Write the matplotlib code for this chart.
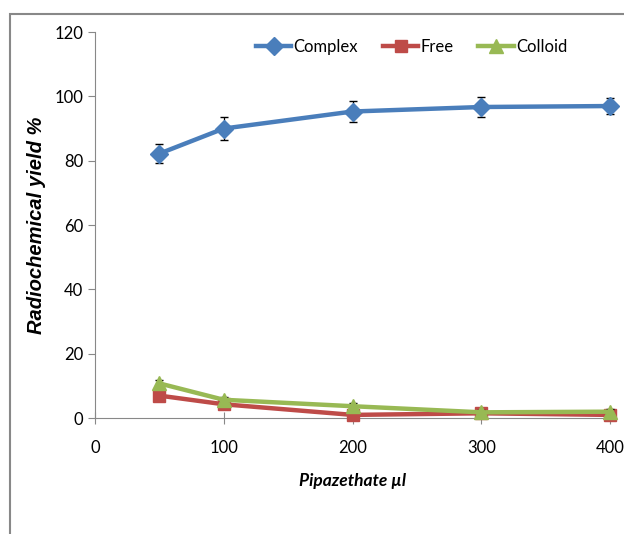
import matplotlib
matplotlib.use('Agg')
import matplotlib.pyplot as plt
from matplotlib.patches import Rectangle

plt.rcParams['font.family'] = ['Lato', 'DejaVu Sans']

volume = [50, 100, 200, 300, 400]
complex_yield = [82.2, 90.0, 95.3, 96.7, 97.0]
complex_err = [3.0, 3.5, 3.2, 3.0, 2.4]
free_yield = [7.0, 4.3, 1.0, 1.5, 1.0]
colloid_yield = [10.8, 5.7, 3.7, 1.8, 2.0]
colloid_err = [1.0, 0.8, 1.0, 0.8, 0.8]

x_ticks = [0, 100, 200, 300, 400]
y_ticks = [0, 20, 40, 60, 80, 100, 120]

blue = '#4A7EBB'
red = '#BE4B48'
green = '#98B954'

fig = plt.figure(figsize=(6.24, 5.34), dpi=100)
fig.patches.append(Rectangle((10 / 624, -0.1), 1.2, 1.1 - 14 / 534,
                             transform=fig.transFigure, fill=False,
                             edgecolor='#888888', linewidth=1.5))
ax = fig.add_axes([0.152, 0.217, 0.826, 0.723])

eb1 = ax.errorbar(volume, complex_yield, yerr=complex_err, color=blue, lw=3.2,
                  marker='D', ms=9, ecolor='black', elinewidth=0.9, capsize=3,
                  zorder=3)
l2, = ax.plot(volume, free_yield, color=red, lw=3.2, marker='s', ms=9, zorder=3)
eb3 = ax.errorbar(volume, colloid_yield, yerr=colloid_err, color=green, lw=3.2,
                  marker='^', ms=10, ecolor='black', elinewidth=0.9, capsize=3,
                  zorder=4)

ax.set_xlim(0, 400)
ax.set_ylim(0, 120)
ax.set_xticks(x_ticks)
ax.set_yticks(y_ticks)
ax.tick_params(axis='both', labelsize=12, color='#888888', length=5)
ax.tick_params(axis='x', direction='inout', length=8, pad=12)
for s in ['top', 'right']:
    ax.spines[s].set_visible(False)
ax.spines['left'].set_color('#888888')
ax.spines['bottom'].set_color('#888888')
for art in ax.lines:
    art.set_clip_on(False)

ax.set_xlabel('Pipazethate µl', fontsize=12.5, fontweight='bold', style='italic', labelpad=12)
ax.set_ylabel('Radiochemical yield %', fontsize=14.5, fontweight='bold', style='italic',
              labelpad=6, family=['Liberation Sans', 'DejaVu Sans'])

ax.legend([eb1[0], l2, eb3[0]], ['Complex', 'Free', 'Colloid'],
          loc='upper center', bbox_to_anchor=(0.614, 1.02), ncol=3, frameon=False,
          fontsize=12, handlelength=2.15, handletextpad=0.1, columnspacing=1.5)

fig.savefig('out.png', dpi=100)
